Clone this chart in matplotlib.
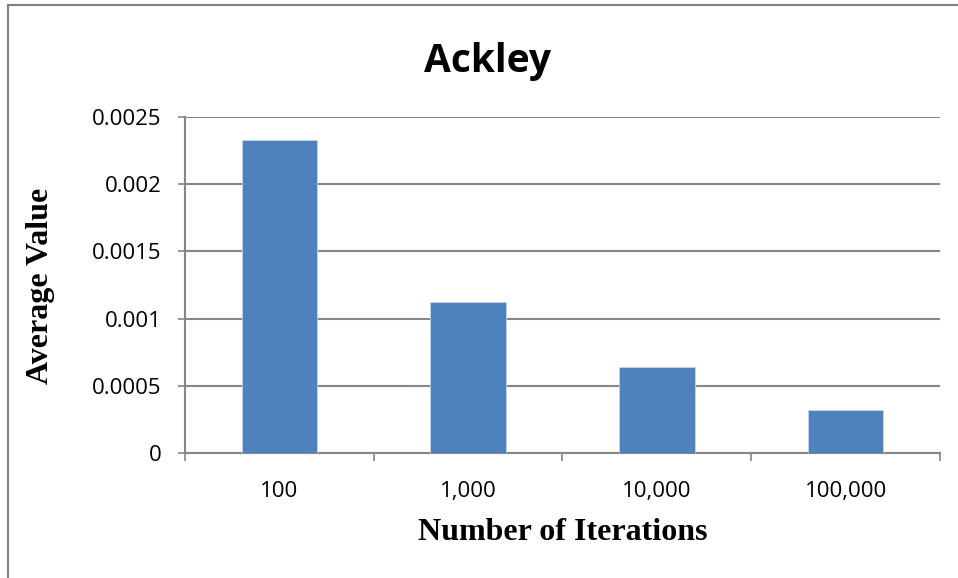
import matplotlib.pyplot as plt
from matplotlib.lines import Line2D
import numpy as np

iterations = ['100', '1,000', '10,000', '100,000']
avg_value = [0.002326, 0.001122, 0.00064, 0.00032]
y_ticks = [0, 0.0005, 0.001, 0.0015, 0.002, 0.0025]
y_tick_labels = ['0', '0.0005', '0.001', '0.0015', '0.002', '0.0025']

grid_gray = '#868686'
bar_blue = '#4f81bd'

fig = plt.figure(figsize=(9.58, 5.78), dpi=100)
ax = fig.add_axes([0.1931, 0.2163, 0.7881, 0.5813])

x = np.arange(len(iterations))
ax.bar(x, avg_value, width=0.4, color=bar_blue, edgecolor='#c6d4e8', linewidth=0.6, zorder=3)

ax.set_xlim(-0.5, len(iterations) - 0.5)
ax.set_ylim(0, 0.0025)
ax.set_yticks(y_ticks)
ax.set_yticklabels(y_tick_labels, fontsize=16, family='Open Sans')
ax.yaxis.grid(True, color=grid_gray, linewidth=1.5, zorder=0)
ax.tick_params(axis='y', direction='out', length=5, width=1.2, color=grid_gray, pad=12)

# category labels sit between boundary ticks
ax.set_xticks(x)
ax.set_xticklabels(iterations, fontsize=16, family='Open Sans')
ax.tick_params(axis='x', length=0, pad=20)
ax.set_xticks(np.arange(len(iterations) + 1) - 0.5, minor=True)
ax.tick_params(axis='x', which='minor', direction='out', length=6, width=1.2, color=grid_gray)

for side in ['top', 'right']:
    ax.spines[side].set_visible(False)
for side in ['left', 'bottom']:
    ax.spines[side].set_color(grid_gray)
    ax.spines[side].set_linewidth(1.5)

fig.text(0.509, 0.894, 'Ackley', ha='center', va='center', fontsize=28,
         fontweight='bold', family='Open Sans')
ax.set_xlabel('Number of Iterations', fontsize=23, fontweight='bold',
              family='Liberation Serif', labelpad=12)
fig.text(0.042, 0.506, 'Average Value', rotation=90, ha='center', va='center',
         fontsize=23, fontweight='bold', family='Liberation Serif')

# outer chart frame
fig.add_artist(Line2D([8 / 958, 8 / 958], [0, 1 - 5 / 578], color='#7f7f7f', linewidth=1.5))
fig.add_artist(Line2D([8 / 958, 1], [1 - 5 / 578, 1 - 5 / 578], color='#7f7f7f', linewidth=1.5))

fig.savefig('out.png', dpi=100)
